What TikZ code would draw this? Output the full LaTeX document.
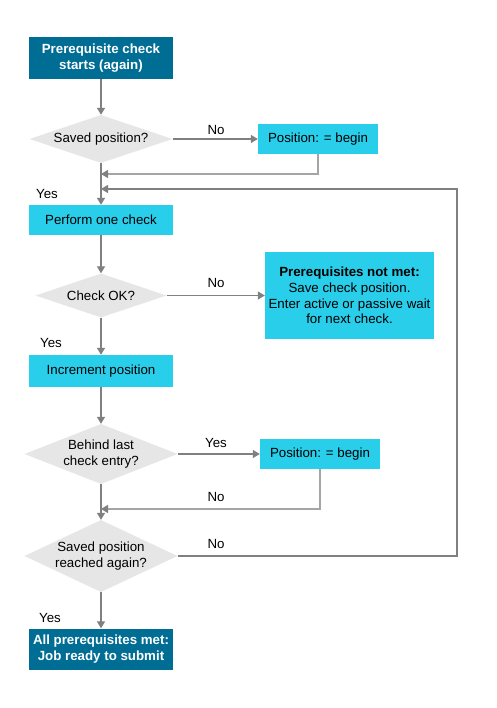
\documentclass[tikz,border=0pt]{standalone}
\usepackage{fontspec}
\setmainfont{Liberation Sans}
\usetikzlibrary{shapes.geometric,arrows.meta}
\definecolor{cyanbox}{RGB}{41,206,234}
\definecolor{darkbox}{RGB}{0,110,148}
\definecolor{decgray}{RGB}{230,230,230}
\definecolor{linegray}{RGB}{128,128,128}
\definecolor{retgray}{RGB}{165,165,165}
\begin{document}
\begin{tikzpicture}[x=1pt,y=-1pt,
  every node/.style={font=\fontsize{13.3}{15.7}\selectfont},
  box/.style={rectangle, fill=cyanbox, inner sep=0pt, align=center},
  dbox/.style={rectangle, fill=darkbox, text=white, font=\fontsize{13.3}{15.7}\selectfont\bfseries, inner sep=0pt, align=center},
  dec/.style={diamond, fill=decgray, inner sep=0pt, align=center},
  conn/.style={draw=linegray, line width=1.3pt, -{Triangle[length=7pt,width=8pt]}},
  retconn/.style={draw=retgray, line width=1.3pt, -{Triangle[length=7pt,width=8pt,color=linegray]}},
  lbl/.style={inner sep=0pt}
]
\fill[white] (0,0) rectangle (496,708);
\useasboundingbox (0,0) rectangle (496,708);

\node[dbox, minimum width=144pt, minimum height=42pt] (start) at (101,58) {Prerequisite check\\starts (again)};
\node[dec, minimum width=143pt, minimum height=48pt, aspect=3] (d1) at (101,139) {Saved position?};
\node[box, minimum width=120pt, minimum height=30pt] (p1) at (318,139) {Position: = begin};
\node[box, minimum width=144pt, minimum height=30pt] (pc) at (101,220) {Perform one check};
\node[dec, minimum width=131pt, minimum height=44pt, aspect=3] (d2) at (101,295.5) {Check OK?};
\node[box, minimum width=169pt, minimum height=87pt] (nm) at (349.5,295.5) {\textbf{Prerequisites not met:}\\Save check position.\\Enter active or passive wait\\for next check.};
\node[box, minimum width=144pt, minimum height=32pt] (inc) at (101,371) {Increment position};
\node[dec, minimum width=153pt, minimum height=60pt, aspect=2.5] (d3) at (101,454) {Behind last\\check entry?};
\node[box, minimum width=120pt, minimum height=30pt] (p2) at (320,454) {Position: = begin};
\node[dec, minimum width=153pt, minimum height=72pt, aspect=2.1] (d4) at (101,556) {Saved position\\reached again?};
\node[dbox, minimum width=144pt, minimum height=41pt] (fin) at (101,649) {All prerequisites met:\\Job ready to submit};

\coordinate (r1) at (101,174);
\coordinate (r2) at (101,189);
\coordinate (k1) at (457,556);
\coordinate (k2) at (457,189);
\coordinate (r3) at (101,509);

\draw[conn] (start) -- (d1);
\draw[conn] (d1) -- (p1);
\draw[retconn] (p1.south) |- (r1);
\draw[conn] (d1) -- (pc);
\draw[conn] (d4.east) -- (k1) -- (k2) -- (r2);
\draw[conn] (pc) -- (d2);
\draw[conn] (d2) -- (nm);
\draw[conn] (d2) -- (inc);
\draw[conn] (inc) -- (d3);
\draw[conn] (d3) -- (p2);
\draw[retconn] (p2.south) |- (r3);
\draw[conn] (d3) -- (d4);
\draw[conn] (d4) -- (fin);

\node[lbl] (l1) at (216,130) {No};
\node[lbl] (l2) at (47,194) {Yes};
\node[lbl] (l3) at (216,283) {No};
\node[lbl] (l4) at (51,343) {Yes};
\node[lbl] (l5) at (216,443) {Yes};
\node[lbl] (l6) at (216,497) {No};
\node[lbl] (l7) at (216,544) {No};
\node[lbl] (l8) at (50,618) {Yes};
\end{tikzpicture}
\end{document}
